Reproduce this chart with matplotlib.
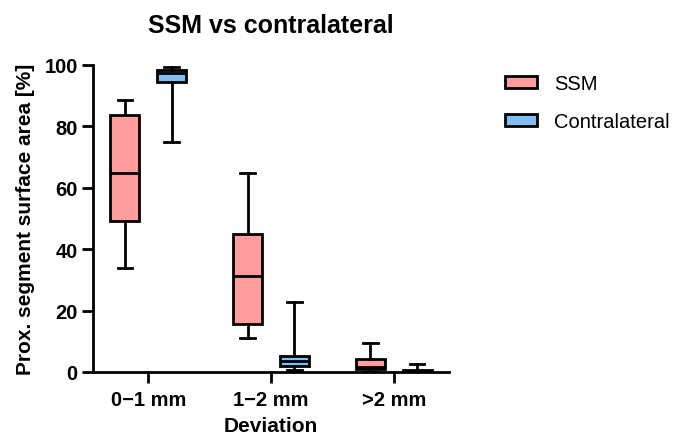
import matplotlib
matplotlib.use("Agg")
import matplotlib.pyplot as plt
from matplotlib.patches import Patch

plt.rcParams['font.family'] = ['Liberation Sans', 'DejaVu Sans']

categories = ["0\u22121 mm", "1\u22122 mm", ">2 mm"]
series_names = ["SSM", "Contralateral"]

# box stats per category: whisker low, Q1, median, Q3, whisker high
ssm_whislo = [33.8, 11.2, 0.0]
ssm_q1 = [49.2, 15.6, 0.9]
ssm_med = [64.9, 31.4, 1.7]
ssm_q3 = [83.8, 45.0, 4.1]
ssm_whishi = [88.7, 64.8, 9.4]

con_whislo = [74.8, 0.5, 0.0]
con_q1 = [94.6, 1.9, 0.0]
con_med = [97.4, 3.7, 0.3]
con_q3 = [98.3, 5.3, 0.8]
con_whishi = [99.4, 22.7, 2.6]

colors = ["#FF9C9E", "#82BEF2"]

fig = plt.figure(figsize=(6.73, 4.39), dpi=100)
ax = fig.add_axes([93/673, 1-373/439, (449-93)/673, (373-66)/439])

def stats(lo, q1, med, q3, hi):
    return [dict(whislo=a, q1=b, med=c, q3=d, whishi=e, fliers=[])
            for a, b, c, d, e in zip(lo, q1, med, q3, hi)]

all_stats = [stats(ssm_whislo, ssm_q1, ssm_med, ssm_q3, ssm_whishi),
             stats(con_whislo, con_q1, con_med, con_q3, con_whishi)]
offsets = [-0.19, 0.19]
lw = 2.0
for st, off, col in zip(all_stats, offsets, colors):
    pos = [i + off for i in range(len(categories))]
    ax.bxp(st, positions=pos, widths=0.235, patch_artist=True, showfliers=False,
           boxprops=dict(facecolor=col, edgecolor='black', linewidth=lw),
           medianprops=dict(color='black', linewidth=lw),
           whiskerprops=dict(color='black', linewidth=lw),
           capprops=dict(color='black', linewidth=lw),
           capwidths=0.12, manage_ticks=False)

ax.set_xlim(-0.45, 2.45)
ax.set_ylim(0, 100)
ax.set_xticks(range(len(categories)))
ax.set_xticklabels(categories, fontsize=14.5, fontweight='bold')
ax.set_yticks([0, 20, 40, 60, 80, 100])
ax.set_yticklabels(["0", "20", "40", "60", "80", "100"], fontsize=14.5, fontweight='bold')
for s in ['top', 'right']:
    ax.spines[s].set_visible(False)
for s in ['left', 'bottom']:
    ax.spines[s].set_linewidth(lw)
ax.tick_params(axis='both', width=lw, length=8, pad=3)
ax.tick_params(axis='x', pad=5)
ax.set_xlabel("Deviation", fontsize=15, fontweight='bold', labelpad=5)
ax.set_ylabel("Prox. segment surface area [%]", fontsize=15, fontweight='bold', labelpad=7)
ax.set_title("SSM vs contralateral", fontsize=18, fontweight='bold', pad=24)

handles = [Patch(facecolor=c, edgecolor='black', linewidth=lw, label=n)
           for c, n in zip(colors, series_names)]
fig.legend(handles=handles, loc='upper left', bbox_to_anchor=(505/673, 1-75/439),
           frameon=False, fontsize=14.5, handlelength=1.6, handleheight=0.6,
           labelspacing=0.95, handletextpad=0.85, borderpad=0, borderaxespad=0)

fig.savefig("out.png", dpi=100)
